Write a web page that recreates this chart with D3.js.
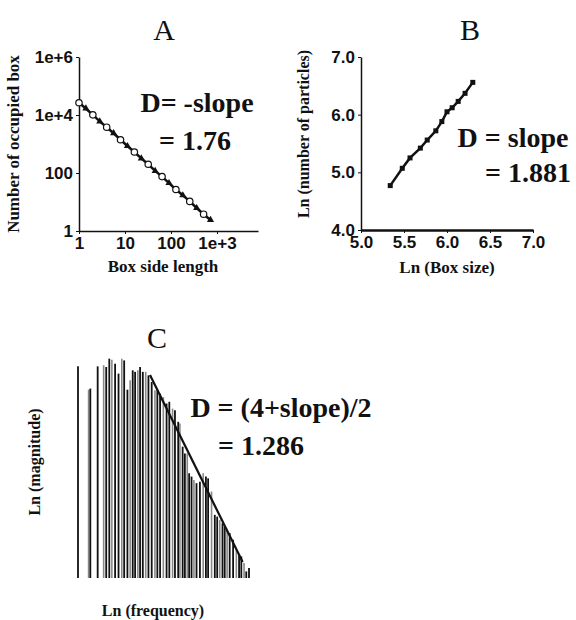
<!DOCTYPE html>
<html>
<head>
<meta charset="utf-8">
<script src="https://cdn.jsdelivr.net/npm/d3@7"></script>
<style>
    body { margin: 0; background: #fff; }
    svg { display: block; font-family: "Liberation Serif", "DejaVu Serif", serif; }
    .tick text { font-weight: bold; font-size: 17px; fill: #111; }
    .domain, .tick line { stroke: #111; }
</style>
</head>
<body>
<div id="chart"></div>
<script>
// Panel A - box counting (log-log)
const boxSide = [1, 1.41, 2, 2.83, 4, 5.66, 8, 11.3, 16, 22.6, 32, 45.3, 64, 90.5, 128, 181, 256, 362, 512, 724];
const boxCount = [26500, 16800, 10100, 6000, 3800, 2350, 1400, 850, 530, 320, 200, 118, 75, 45, 27, 17, 10.5, 6.2, 3.8, 2.4];
const aYTicks = [1, 100, 1e4, 1e6];
const aYLabels = ["1", "100", "1e+4", "1e+6"];
const aXTicks = [1, 10, 100, 1000];
const aXLabels = ["1", "10", "100", "1e+3"];

// Panel B - mass radius
const lnBox = [5.34, 5.48, 5.57, 5.69, 5.77, 5.87, 5.94, 6.00, 6.06, 6.13, 6.21, 6.30];
const lnParticles = [4.77, 5.07, 5.25, 5.42, 5.56, 5.72, 5.88, 6.05, 6.12, 6.23, 6.37, 6.56];
const bXTicks = [5.0, 5.5, 6.0, 6.5, 7.0];
const bYTicks = [4.0, 5.0, 6.0, 7.0];

// Panel C - power spectrum (no axis values in the figure, relative units 0-100)
const lnFreq = [0, 6.2, 7.2, 11.5, 15.0, 16.5, 18.3, 19.8, 21.7, 23.7, 25.6, 27.0, 28.9, 30.5, 32.0, 33.4,
    35.0, 36.3, 37.9, 39.6, 41.2, 43.1, 45.0, 46.4, 48.0, 49.9, 51.8, 53.4, 55.3, 56.7, 58.6, 59.6,
    61.2, 62.5, 63.9, 65.0, 66.4, 67.8, 69.3, 71.3, 73.2, 74.8, 76.1, 78.1, 80.0, 81.4, 82.9, 84.5,
    85.8, 87.2, 88.7, 90.7, 92.6, 94.2, 95.5, 97.1, 98.4, 100];
const lnMag = [96.2, 85.6, 86.1, 96.2, 96.7, 95.9, 99.7, 99.2, 97.4, 92.9, 99.7, 98.9, 85.6, 89.9, 94.4, 93.7,
    94.4, 95.9, 93.7, 93.7, 92.1, 89.1, 85.3, 85.3, 83.8, 82.3, 79.3, 80.1, 77.0, 76.3, 71.0, 70.2,
    59.7, 56.6, 56.6, 47.6, 46.1, 44.6, 43.1, 43.8, 47.6, 46.1, 45.3, 39.3, 28.7, 27.9, 26.4, 24.9,
    23.4, 21.9, 20.4, 17.4, 12.8, 10.6, 9.8, 6.8, 3.0, 4.5];
const fitFreq = [42.1, 96.3];
const fitMag = [92.3, 7.3];

const width = 576, height = 620;
const svg = d3.select("#chart").append("svg")
    .attr("width", width)
    .attr("height", height);

// helper for bold text
function label(g, x, y, txt, size, opts = {}) {
    const t = g.append("text")
        .attr("x", x).attr("y", y)
        .attr("text-anchor", opts.anchor || "middle")
        .style("font-size", size + "px")
        .style("font-weight", opts.normal ? "normal" : "bold")
        .attr("fill", "#111")
        .text(txt);
    if (opts.rotate) t.attr("transform", `rotate(-90,${x},${y})`);
    return t;
}

// ---------- Panel A ----------
const ax = d3.scaleLog().domain([1, 7800]).range([79, 258]);
const ay = d3.scaleLog().domain([1, 1e6]).range([231, 57]);
const gA = svg.append("g");

gA.append("g")
    .attr("transform", "translate(0,231)")
    .call(d3.axisBottom(ax).tickValues(aXTicks).tickFormat((d, i) => aXLabels[i]).tickSize(3).tickSizeOuter(0))
    .call(g => g.select(".domain").attr("stroke-width", 1.5));
gA.append("g")
    .attr("transform", "translate(79,0)")
    .call(d3.axisLeft(ay).tickValues(aYTicks).tickFormat((d, i) => aYLabels[i]).tickSize(3).tickSizeOuter(0))
    .call(g => g.select(".domain").attr("stroke-width", 1.5));

gA.append("path")
    .datum(boxSide.map((s, i) => [s, boxCount[i]]))
    .attr("fill", "none")
    .attr("stroke", "#111")
    .attr("stroke-width", 2.5)
    .attr("d", d3.line().x(d => ax(d[0])).y(d => ay(d[1])));

// alternating open circles and filled triangles
gA.selectAll("circle.pt")
    .data(boxSide.filter((s, i) => i % 2 === 0))
    .enter().append("circle")
    .attr("class", "pt")
    .attr("cx", d => ax(d))
    .attr("cy", d => ay(boxCount[boxSide.indexOf(d)]))
    .attr("r", 3.2)
    .attr("fill", "#fff")
    .attr("stroke", "#111")
    .attr("stroke-width", 1.2);
gA.selectAll("path.tri")
    .data(boxSide.filter((s, i) => i % 2 === 1))
    .enter().append("path")
    .attr("class", "tri")
    .attr("d", d3.symbol().type(d3.symbolTriangle).size(22))
    .attr("transform", d => `translate(${ax(d)},${ay(boxCount[boxSide.indexOf(d)])})`)
    .attr("fill", "#111");

label(gA, 164, 40, "A", 30, { normal: true });
label(gA, 19, 144, "Number of occupied box", 17, { rotate: true });
label(gA, 163, 272, "Box side length", 17);
label(gA, 197, 112, "D= -slope", 28);
label(gA, 195, 150, "= 1.76", 28);

// ---------- Panel B ----------
const bx = d3.scaleLinear().domain([5, 7]).range([361, 533]);
const by = d3.scaleLinear().domain([4, 7]).range([230, 57]);
const gB = svg.append("g");

gB.append("g")
    .attr("transform", "translate(0,230)")
    .call(d3.axisBottom(bx).tickValues(bXTicks).tickFormat(d3.format(".1f")).tickSize(3).tickSizeOuter(0))
    .call(g => g.select(".domain").attr("stroke-width", 2.5));
gB.append("g")
    .attr("transform", "translate(361,0)")
    .call(d3.axisLeft(by).tickValues(bYTicks).tickFormat(d3.format(".1f")).tickSize(3).tickSizeOuter(0))
    .call(g => g.select(".domain").attr("stroke-width", 1.5));

gB.append("path")
    .datum(lnBox.map((v, i) => [v, lnParticles[i]]))
    .attr("fill", "none")
    .attr("stroke", "#111")
    .attr("stroke-width", 2.5)
    .attr("d", d3.line().x(d => bx(d[0])).y(d => by(d[1])));

gB.selectAll("rect.pt")
    .data(lnBox.map((v, i) => [v, lnParticles[i]]))
    .enter().append("rect")
    .attr("class", "pt")
    .attr("x", d => bx(d[0]) - 2.5)
    .attr("y", d => by(d[1]) - 2.5)
    .attr("width", 5)
    .attr("height", 5)
    .attr("fill", "#111");

label(gB, 470, 40, "B", 30, { normal: true });
label(gB, 309, 134, "Ln (number of particles)", 16, { rotate: true });
label(gB, 447, 273, "Ln (Box size)", 17);
label(gB, 513, 147, "D = slope", 28);
label(gB, 528, 182, "= 1.881", 28);

// ---------- Panel C ----------
const cx = d3.scaleLinear().domain([0, 100]).range([78, 249]);
const cy = d3.scaleLinear().domain([0, 100]).range([578, 358]);
const gC = svg.append("g");

gC.selectAll("line.bar")
    .data(lnFreq.map((f, i) => [f, lnMag[i]]))
    .enter().append("line")
    .attr("class", "bar")
    .attr("x1", d => cx(d[0]))
    .attr("x2", d => cx(d[0]))
    .attr("y1", cy(0))
    .attr("y2", d => cy(d[1]))
    .attr("stroke", (d, i) => i % 3 === 1 ? "#888" : "#111")
    .attr("stroke-width", (d, i) => i % 3 === 1 ? 1.6 : 1.8);

gC.append("path")
    .datum(fitFreq.map((f, i) => [f, fitMag[i]]))
    .attr("fill", "none")
    .attr("stroke", "#111")
    .attr("stroke-width", 2.2)
    .attr("d", d3.line().x(d => cx(d[0])).y(d => cy(d[1])));

label(gC, 157, 348, "C", 30, { normal: true });
label(gC, 40, 462, "Ln (magnitude)", 16, { rotate: true });
label(gC, 153, 616, "Ln (frequency)", 16);
label(gC, 281, 417, "D = (4+slope)/2", 28);
label(gC, 261, 455, "= 1.286", 28);
</script>
</body>
</html>
